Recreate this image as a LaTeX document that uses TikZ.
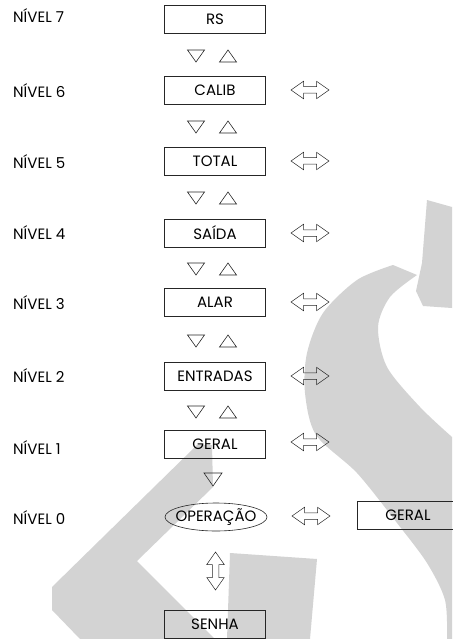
\documentclass[tikz,border=0pt]{standalone}
\usepackage{fontspec}
\setmainfont{Poppins}
\usetikzlibrary{shapes.geometric,shapes.arrows}
\definecolor{marca}{RGB}{211,211,211}
\begin{document}
\begin{tikzpicture}[x=1pt,y=-1pt,
    every node/.style={font=\fontsize{15}{17}\selectfont},
    box/.style={draw=black!85,line width=0.6pt,minimum width=101pt,minimum height=28pt,inner sep=0pt},
    lvl/.style={anchor=west,inner sep=0pt},
    seta/.style={draw=black!85,line width=0.5pt,double arrow,double arrow head extend=5.5pt,
        double arrow tip angle=70,inner sep=3pt,minimum height=38pt},
    tri/.style={draw=black!85,line width=0.6pt}]
    \useasboundingbox (0,0) rectangle (452,639);
    % marca d'agua
    \fill[marca](427,200)--(452,207)--(452,308)--(423,306)--(416,291)--(422,263)--cycle;
    \fill[marca](393,265)--(417,275)
        --plot[smooth]coordinates{(417,275)(390,297)(378,327)(387,367)(420,407)(452,437)}
        --(452,639)--(447,639)
        --plot[smooth]coordinates{(447,639)(445,600)(427,563)(397,523)(357,473)(316,435)(305,393)(307,353)(323,313)(357,280)(393,265)}
        --cycle;
    \fill[marca](52,587)--(197,445)--(212,445)--(213,487)--(137,561)--(215,639)--(80,639)--(52,610)--cycle;
    \fill[marca](230,553)--(317,559)--(310,639)--(227,639)--cycle;
    % niveis
    \node[lvl](n7)at(13,16){NÍVEL 7};
    \node[lvl](n6)at(13,91){NÍVEL 6};
    \node[lvl](n5)at(13,162){NÍVEL 5};
    \node[lvl](n4)at(13,233){NÍVEL 4};
    \node[lvl](n3)at(13,303){NÍVEL 3};
    \node[lvl](n2)at(13,376){NÍVEL 2};
    \node[lvl](n1)at(13,448){NÍVEL 1};
    \node[lvl](n0)at(13,518){NÍVEL 0};
    % menus
    \node[box](rs)at(215,19){RS};
    \node[box](calib)at(215,90){CALIB};
    \node[box](total)at(215,161){TOTAL};
    \node[box](saida)at(215,233){SAÍDA};
    \node[box](alar)at(215,302){ALAR};
    \node[box](entradas)at(215,376){ENTRADAS};
    \node[box](geral)at(215,444){GERAL};
    \node[ellipse,draw=black!85,line width=0.6pt,minimum width=102pt,minimum height=28pt,inner sep=0pt,
        font=\fontsize{15}{17}\selectfont](op)at(216,517){\makebox[60pt]{OPERAÇÃO}};
    \node[box](geralb)at(408,515){GERAL};
    \node[box](senha)at(215,624){SENHA};
    % setas
    \node[seta](a6)at(310,90){};
    \node[seta](a5)at(310,161){};
    \node[seta](a4)at(310,233){};
    \node[seta](a3)at(310,302){};
    \node[seta](a2)at(310,376){};
    \node[seta](a1)at(310,442){};
    \node[seta](a0)at(311,516){};
    \node[seta,shape border rotate=90](av)at(215.5,571){};
    % teclas
    \draw[tri](187.5,50)--(204.5,50)--(196,62)--cycle;
    \draw[tri](219.5,62)--(236.5,62)--(228,50)--cycle;
    \draw[tri](187.5,121)--(204.5,121)--(196,133)--cycle;
    \draw[tri](219.5,133)--(236.5,133)--(228,121)--cycle;
    \draw[tri](187.5,192)--(204.5,192)--(196,204)--cycle;
    \draw[tri](219.5,204)--(236.5,204)--(228,192)--cycle;
    \draw[tri](187.5,263)--(204.5,263)--(196,275)--cycle;
    \draw[tri](219.5,275)--(236.5,275)--(228,263)--cycle;
    \draw[tri](187.5,335)--(204.5,335)--(196,347)--cycle;
    \draw[tri](219.5,347)--(236.5,347)--(228,335)--cycle;
    \draw[tri](187.5,406)--(204.5,406)--(196,418)--cycle;
    \draw[tri](219.5,418)--(236.5,418)--(228,406)--cycle;
    \draw[tri](204,473)--(222,473)--(213,486)--cycle;
\end{tikzpicture}
\end{document}
